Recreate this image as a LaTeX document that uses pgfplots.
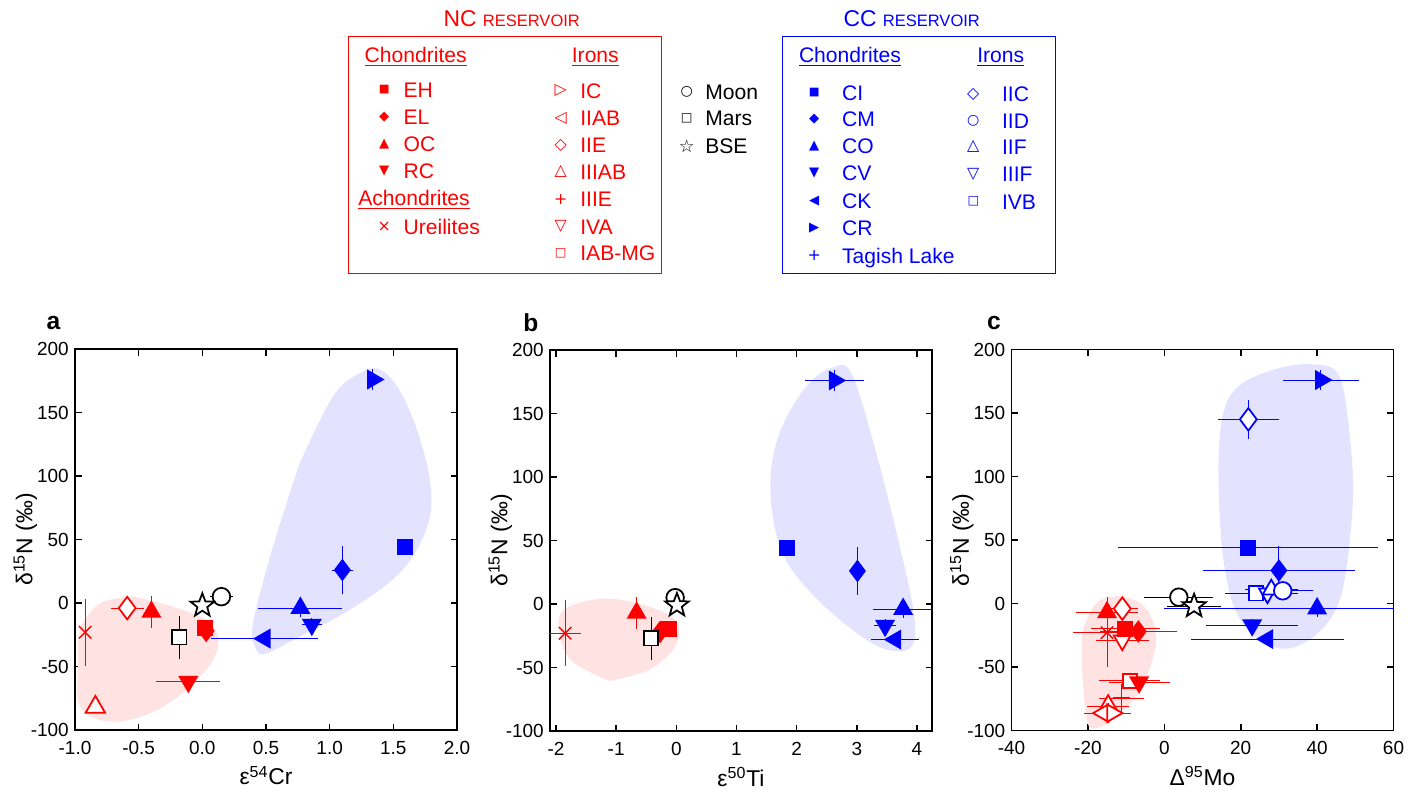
\documentclass[border=0pt]{standalone}
\usepackage{fontspec}
\setmainfont{Liberation Sans}
\newfontfamily\dejavu{DejaVu Sans}
\usepackage{pgfplots}
\pgfplotsset{compat=1.18}

% outlined five-point star (the built-in star is an asterisk)
\pgfdeclareplotmark{ostar}{%
  \pgfpathmoveto{\pgfpointpolar{90}{\pgfplotmarksize}}%
  \pgfpathlineto{\pgfpointpolar{126}{0.42\pgfplotmarksize}}%
  \pgfpathlineto{\pgfpointpolar{162}{\pgfplotmarksize}}%
  \pgfpathlineto{\pgfpointpolar{198}{0.42\pgfplotmarksize}}%
  \pgfpathlineto{\pgfpointpolar{234}{\pgfplotmarksize}}%
  \pgfpathlineto{\pgfpointpolar{270}{0.42\pgfplotmarksize}}%
  \pgfpathlineto{\pgfpointpolar{306}{\pgfplotmarksize}}%
  \pgfpathlineto{\pgfpointpolar{342}{0.42\pgfplotmarksize}}%
  \pgfpathlineto{\pgfpointpolar{18}{\pgfplotmarksize}}%
  \pgfpathlineto{\pgfpointpolar{54}{0.42\pgfplotmarksize}}%
  \pgfpathclose
  \pgfusepathqfillstroke}

\pgfplotsset{
  panel/.style={
    scale only axis, width=7.64cm, height=7.62cm, anchor=south west,
    ymin=-100, ymax=200, ytick={-100,-50,0,50,100,150,200},
    tick align=inside, major tick length=0.13cm,
    axis line style={line width=0.9pt},
    every tick/.style={line width=0.9pt, black},
    tick label style={font=\fontsize{10.8}{12}\selectfont},
    xticklabel style={yshift=-0.1cm},
    /pgf/number format/assume math mode=true,
    ylabel={δ\textsuperscript{15}N (‰)},
    every axis y label/.style={at={(axis description cs:-0.13,0.5)}, rotate=90, anchor=center, font=\fontsize{13}{15}\selectfont},
    every axis x label/.style={at={(axis description cs:0.5,-0.12)}, anchor=center, font=\fontsize{13}{15}\selectfont},
  },
  pt/.style={only marks, mark options={solid, line width=1pt},
    /pgfplots/error bars/x dir=both, /pgfplots/error bars/x explicit,
    /pgfplots/error bars/y dir=both, /pgfplots/error bars/y explicit,
    /pgfplots/error bars/error mark=none,
    /pgfplots/error bars/error bar style={line width=0.55pt, solid}},
  F/.style={color=#1},
  O/.style={color=#1, /tikz/every mark/.append style={fill=white}},
  msq/.style={mark=square*, mark size=4.1pt},
  mdi/.style={mark=diamond*, mark size=5.6pt},
  mtu/.style={mark=triangle*, mark size=5.6pt},
  mtd/.style={mark=triangle*, mark size=5.6pt, /tikz/every mark/.append style={rotate=180}},
  mtl/.style={mark=triangle*, mark size=5.6pt, /tikz/every mark/.append style={rotate=90}},
  mtr/.style={mark=triangle*, mark size=5.6pt, /tikz/every mark/.append style={rotate=-90}},
  mci/.style={mark=*, mark size=5pt},
  mst/.style={mark=ostar, mark size=7pt, /tikz/every mark/.append style={fill=white}},
  mx/.style={mark=x, mark size=5pt, /tikz/every mark/.append style={line width=0.8pt}},
  mpl/.style={mark=+, mark size=5pt},
  blobR/.style={fill=red!11, draw=none, smooth, tension=0.6},
  blobB/.style={fill=blue!11, draw=none, smooth, tension=0.6},
}

% legend helpers
\newcommand{\glyph}[4]{\node[#1, inner sep=0pt, font=\dejavu\fontsize{#4}{#4}\selectfont] at (#2) {#3};}
\newcommand{\ltext}[3]{\node[#1, anchor=west, inner sep=0pt, text height=8.6pt, text depth=0pt, font=\fontsize{12}{14}\selectfont] at (#2) {#3};}
\newcommand{\lhead}[3]{\node[#1, inner sep=0pt, text height=8.6pt, text depth=0pt, font=\fontsize{12}{14}\selectfont] at (#2) {\underline{#3}};}

\begin{document}
\begin{tikzpicture}
\useasboundingbox (0,0) rectangle (28.4,-15.82);

% ---------- legend: NC reservoir ----------
\node[red, inner sep=0pt, text height=9.4pt, text depth=0pt, font=\fontsize{13}{15}\selectfont] at (10.234,-0.366) {NC {\fontsize{9.4}{11}\selectfont RESERVOIR}};
\draw[red, line width=0.7pt] (6.966,-0.734) rectangle (13.234,-5.466);
\lhead{red}{8.314,-1.10}{Chondrites}
\glyph{red}{7.686,-1.80}{■}{6.5}   \ltext{red}{8.066,-1.80}{EH}
\glyph{red}{7.686,-2.346}{◆}{7.5}  \ltext{red}{8.066,-2.346}{EL}
\glyph{red}{7.686,-2.88}{▲}{7.5}   \ltext{red}{8.066,-2.88}{OC}
\glyph{red}{7.686,-3.414}{▼}{7.5}  \ltext{red}{8.066,-3.414}{RC}
\lhead{red}{8.28,-3.966}{Achondrites}
\glyph{red}{7.686,-4.534}{×}{9}    \ltext{red}{8.066,-4.534}{Ureilites}
\lhead{red}{11.906,-1.10}{Irons}
\glyph{red}{11.214,-1.814}{▷}{9}   \ltext{red}{11.6,-1.814}{IC}
\glyph{red}{11.214,-2.366}{◁}{9}   \ltext{red}{11.6,-2.366}{IIAB}
\glyph{red}{11.214,-2.90}{◇}{9}    \ltext{red}{11.6,-2.90}{IIE}
\glyph{red}{11.214,-3.434}{△}{9}   \ltext{red}{11.6,-3.434}{IIIAB}
\glyph{red}{11.214,-3.986}{+}{9}   \ltext{red}{11.6,-3.986}{IIIE}
\glyph{red}{11.214,-4.534}{▽}{9}   \ltext{red}{11.6,-4.534}{IVA}
\glyph{red}{11.214,-5.066}{□}{7}   \ltext{red}{11.6,-5.066}{IAB-MG}
% ---------- legend: planetary bodies ----------
\glyph{black}{13.734,-1.834}{○}{8}   \ltext{black}{14.10,-1.834}{Moon}
\glyph{black}{13.734,-2.366}{□}{7}   \ltext{black}{14.10,-2.366}{Mars}
\glyph{black}{13.734,-2.914}{☆}{10}  \ltext{black}{14.10,-2.914}{BSE}
% ---------- legend: CC reservoir ----------
\node[blue, inner sep=0pt, text height=9.4pt, text depth=0pt, font=\fontsize{13}{15}\selectfont] at (18.234,-0.366) {CC {\fontsize{9.4}{11}\selectfont RESERVOIR}};
\draw[blue, line width=0.7pt] (15.654,-0.734) rectangle (21.114,-5.466);
\lhead{blue}{17.0,-1.10}{Chondrites}
\glyph{blue}{16.286,-1.854}{■}{6.5} \ltext{blue}{16.834,-1.854}{CI}
\glyph{blue}{16.286,-2.386}{◆}{7.5} \ltext{blue}{16.834,-2.386}{CM}
\glyph{blue}{16.286,-2.92}{▲}{7.5}  \ltext{blue}{16.834,-2.92}{CO}
\glyph{blue}{16.286,-3.466}{▼}{7.5} \ltext{blue}{16.834,-3.466}{CV}
\glyph{blue}{16.286,-4.014}{◀}{7.5} \ltext{blue}{16.834,-4.014}{CK}
\glyph{blue}{16.286,-4.566}{▶}{7.5} \ltext{blue}{16.834,-4.566}{CR}
\glyph{blue}{16.286,-5.12}{+}{9}    \ltext{blue}{16.834,-5.12}{Tagish Lake}
\lhead{blue}{20.014,-1.10}{Irons}
\glyph{blue}{19.466,-1.88}{◇}{9}    \ltext{blue}{20.034,-1.88}{IIC}
\glyph{blue}{19.466,-2.414}{○}{8}   \ltext{blue}{20.034,-2.414}{IID}
\glyph{blue}{19.466,-2.934}{△}{9}   \ltext{blue}{20.034,-2.934}{IIF}
\glyph{blue}{19.466,-3.48}{▽}{9}    \ltext{blue}{20.034,-3.48}{IIIF}
\glyph{blue}{19.466,-4.034}{□}{7}   \ltext{blue}{20.034,-4.034}{IVB}

% ---------- panel labels ----------
\node[inner sep=0pt, font=\bfseries\fontsize{14}{16}\selectfont] at (1.07,-6.45) {a};
\node[inner sep=0pt, font=\bfseries\fontsize{14}{16}\selectfont] at (10.62,-6.45) {b};
\node[inner sep=0pt, font=\bfseries\fontsize{14}{16}\selectfont] at (19.88,-6.45) {c};

% ---------- panel a: e54Cr ----------
\begin{axis}[panel, at={(1.5cm,-14.60cm)}, xmin=-1, xmax=2,
  xtick={-1,-0.5,0,0.5,1,1.5,2}, xticklabels={-1.0,-0.5,0.0,0.5,1.0,1.5,2.0},
  xlabel={ε\textsuperscript{54}Cr}]
\addplot[blobR] coordinates {(-0.543,5.0) (-0.804,-0.3) (-0.961,-21.3) (-0.974,-47.5) (-0.961,-81.6) (-0.726,-93.4) (-0.412,-86.9) (-0.125,-68.5) (0.084,-44.9) (0.123,-26.5) (0.032,-13.4) (-0.229,-2.9) (-0.543,5.0)};
\addplot[blobB] coordinates {(0.764,110.0) (0.555,44.4) (0.398,-16.0) (0.420,-36.0) (0.502,-39.6) (0.764,-26.5) (1.156,-5.5) (1.548,23.4) (1.757,57.5) (1.796,89.0) (1.704,131.0) (1.548,167.7) (1.391,184.0) (1.234,180.8) (1.025,162.5) (0.764,110.0)};
\addplot[pt, F=blue, mtr] coordinates {(1.34,176) +- (0,8)};
\addplot[pt, F=blue, msq] coordinates {(1.59,44) +- (0.03,2)};
\addplot[pt, F=blue, mdi] coordinates {(1.10,26) +- (0.08,19)};
\addplot[pt, F=blue, mtu] coordinates {(0.77,-4) +- (0.33,7)};
\addplot[pt, F=blue, mtd] coordinates {(0.86,-17) +- (0.08,5)};
\addplot[pt, F=blue, mtl] coordinates {(0.49,-28) +- (0.42,0)};
\addplot[pt, O=red, mtu, mark size=6.4pt] coordinates {(-0.84,-82) +- (0,2)};
\addplot[pt, F=red, mx] coordinates {(-0.92,-23) +- (0,26.5)};
\addplot[pt, O=red, mdi, mark size=6.4pt] coordinates {(-0.59,-4) +- (0.13,0)};
\addplot[pt, F=red, mtu] coordinates {(-0.40,-7) +- (0,12.5)};
\addplot[pt, F=red, mtd] coordinates {(-0.11,-62) +- (0.25,0)};
\addplot[pt, F=red, msq] coordinates {(0.02,-20) +- (0,3)};
\addplot[pt, F=red, mdi] coordinates {(0.03,-22) +- (0,4)};
\addplot[pt, O=black, msq] coordinates {(-0.18,-27) +- (0,17)};
\addplot[pt, O=black, mci] coordinates {(0.15,5) +- (0.09,0)};
\addplot[pt, O=black, mst] coordinates {(0,-2) +- (0,0)};
\end{axis}

% ---------- panel b: e50Ti ----------
\begin{axis}[panel, at={(11.0cm,-14.62cm)}, xmin=-2.1, xmax=4.25,
  xtick={-2,-1,0,1,2,3,4}, xlabel={ε\textsuperscript{50}Ti}]
\addplot[blobR] coordinates {(-1.1,-60.6) (-0.433,-51.4) (-0.017,-33.1) (0.011,-14.7) (-0.322,-4.2) (-1.1,4.2) (-1.767,-1.6) (-1.961,-14.7) (-1.767,-43.6) (-1.1,-60.6)};
\addplot[blobB] coordinates {(3.511,85.0) (3.9,6.3) (3.956,-27.8) (3.733,-37.0) (3.233,-30.4) (2.4,1.05) (1.789,37.8) (1.567,85.0) (1.678,129.7) (2.122,169.0) (2.594,186.1) (2.956,176.9) (3.511,85.0)};
\addplot[pt, F=blue, mtr] coordinates {(2.63,176) +- (0.49,8)};
\addplot[pt, F=blue, msq] coordinates {(1.84,44) +- (0.03,3)};
\addplot[pt, F=blue, mdi] coordinates {(3.01,26) +- (0,19)};
\addplot[pt, F=blue, mtu] coordinates {(3.77,-4) +- (0.5,7)};
\addplot[pt, F=blue, mtd] coordinates {(3.47,-17) +- (0.18,5)};
\addplot[pt, F=blue, mtl] coordinates {(3.64,-28) +- (0.4,0)};
\addplot[pt, F=red, mx] coordinates {(-1.85,-23) +- (0.26,26)};
\addplot[pt, F=red, mtu] coordinates {(-0.66,-7) +- (0,12.5)};
\addplot[pt, F=red, mdi] coordinates {(-0.27,-22) +- (0,3)};
\addplot[pt, F=red, msq] coordinates {(-0.12,-20) +- (0,5)};
\addplot[pt, O=black, msq] coordinates {(-0.42,-27) +- (0,17)};
\addplot[pt, O=black, mci] coordinates {(-0.02,5) +- (0,0)};
\addplot[pt, O=black, mst] coordinates {(0.01,-1) +- (0,0)};
\end{axis}

% ---------- panel c: D95Mo ----------
\begin{axis}[panel, at={(20.23cm,-14.61cm)}, xmin=-40, xmax=60,
  xtick={-40,-20,0,20,40,60}, xlabel={Δ\textsuperscript{95}Mo}]
\addplot[blobR] coordinates {(-21.6,-46.9) (-20.3,-91.6) (-17.7,-98.1) (-12.4,-88.9) (-6.3,-67.9) (-2.4,-36.4) (-2.8,-15.4) (-6.3,0.4) (-12.4,5.6) (-17.7,0.4) (-21.2,-20.6) (-21.6,-46.9)};
\addplot[blobB] coordinates {(49.2,110.7) (49.2,71.3) (46.2,5.6) (39.2,-25.9) (29.6,-35.1) (19.9,-12.8) (15.6,31.9) (14.2,97.6) (15.1,144.8) (19.0,170.0) (28.7,184.2) (39.2,188.2) (46.2,176.4) (49.2,110.7)};
\addplot[pt, F=blue, mtr] coordinates {(41,176) +- (10,8)};
\addplot[pt, O=blue, mdi, mark size=6.4pt] coordinates {(22,145) +- (8,15.5)};
\addplot[pt, F=blue, msq] coordinates {(22,44) +- (34,2)};
\addplot[pt, F=blue, mdi] coordinates {(30,26) +- (20,19)};
\addplot[pt, F=blue, mtu] coordinates {(40,-4) +- (40,7)};
\addplot[pt, F=blue, mtd] coordinates {(23,-17) +- (12,5)};
\addplot[pt, F=blue, mtl] coordinates {(27,-28) +- (20,0)};
\addplot[pt, O=blue, msq] coordinates {(24,8) +- (8,0)};
\addplot[pt, O=blue, mtd] coordinates {(27,8) +- (8,0)};
\addplot[pt, O=blue, mtu] coordinates {(28,11) +- (7,0)};
\addplot[pt, O=blue, mci] coordinates {(31,10) +- (8,0)};
\addplot[pt, O=black, mci] coordinates {(3.8,5) +- (9,0)};
\addplot[pt, O=black, mst] coordinates {(7.8,-2) +- (7,0)};
\addplot[pt, F=red, mtu] coordinates {(-15,-7) +- (8,12.5)};
\addplot[pt, O=red, mdi, mark size=6.4pt] coordinates {(-11,-4) +- (4,0)};
\addplot[pt, F=red, mx] coordinates {(-15,-23) +- (9,27)};
\addplot[pt, O=red, mtd] coordinates {(-11,-29) +- (7,0)};
\addplot[pt, F=red, msq] coordinates {(-10.2,-20) +- (9,3)};
\addplot[pt, F=red, mdi] coordinates {(-6.8,-22) +- (10,3)};
\addplot[pt, O=red, msq] coordinates {(-9,-61) +- (8,0)};
\addplot[pt, F=red, mtd] coordinates {(-6.6,-62) +- (8,0)};
\addplot[pt, F=red, mpl] coordinates {(-11.2,-74.5) +- (6,11)};
\addplot[pt, O=red, mtu, mark size=6.4pt] coordinates {(-14.7,-81) +- (5.5,0)};
\addplot[pt, O=red, mtl, mark size=5.7pt] coordinates {(-16,-86.3) +- (5,0)};
\addplot[pt, O=red, mtr, mark size=5.7pt] coordinates {(-13.6,-86.3) +- (5,0)};
\end{axis}
\end{tikzpicture}
\end{document}
